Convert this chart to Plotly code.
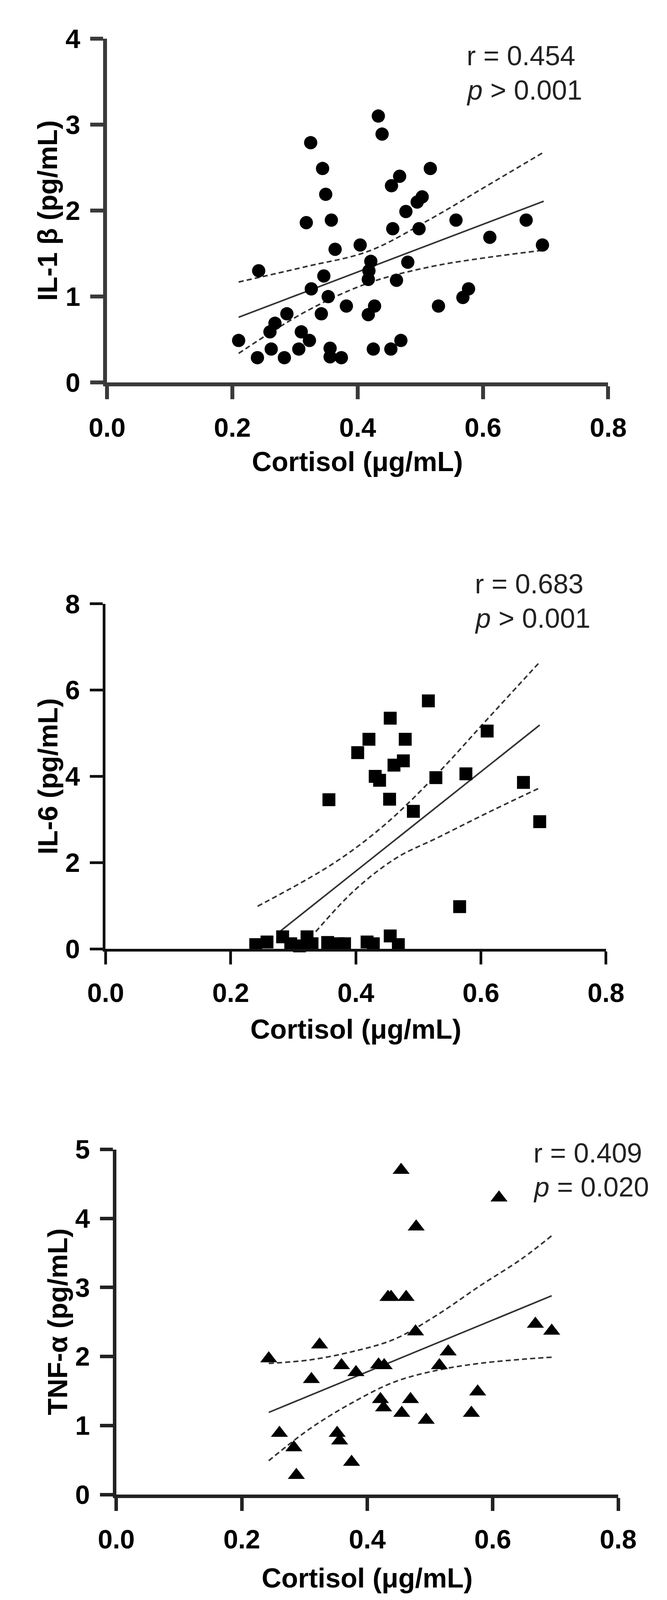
import plotly.graph_objects as go

# Cortisol vs cytokines, three stacked scatter panels with fit line + 95% CI bands

# IL-1 beta panel
il1b_x = [0.210, 0.240, 0.242, 0.262, 0.260, 0.268, 0.283, 0.287, 0.306, 0.310,
          0.323, 0.318, 0.325, 0.326, 0.342, 0.344, 0.346, 0.349, 0.353, 0.356,
          0.356, 0.358, 0.364, 0.374, 0.382, 0.404, 0.421, 0.418, 0.417, 0.417,
          0.427, 0.425, 0.433, 0.439, 0.456, 0.454, 0.467, 0.453, 0.469, 0.462,
          0.477, 0.498, 0.495, 0.503, 0.480, 0.516, 0.529, 0.557, 0.568, 0.577,
          0.611, 0.669, 0.695]
il1b_y = [0.49, 0.29, 1.30, 0.39, 0.59, 0.69, 0.29, 0.80, 0.39, 0.59,
          0.49, 1.86, 2.79, 1.09, 0.80, 2.49, 1.24, 2.19, 1.00, 0.40,
          0.30, 1.89, 1.55, 0.29, 0.89, 1.60, 1.41, 1.30, 1.20, 0.79,
          0.89, 0.39, 3.10, 2.89, 1.79, 2.29, 2.40, 0.39, 0.49, 1.19,
          1.99, 1.79, 2.10, 2.16, 1.40, 2.49, 0.89, 1.89, 0.99, 1.09,
          1.69, 1.89, 1.60]
il1b_fit_x = [0.210, 0.697]
il1b_fit_y = [0.76, 2.11]
il1b_ci_x = [0.210, 0.318, 0.418, 0.518, 0.602, 0.697]
il1b_ci_hi = [1.17, 1.35, 1.53, 1.91, 2.27, 2.68]
il1b_ci_lo = [0.34, 0.83, 1.16, 1.35, 1.45, 1.54]

# IL-6 panel
il6_x = [0.516, 0.455, 0.421, 0.403, 0.479, 0.476, 0.461, 0.431, 0.438, 0.528,
         0.576, 0.610, 0.668, 0.357, 0.454, 0.492, 0.694, 0.566,
         0.240, 0.258, 0.283, 0.296, 0.310, 0.322, 0.330, 0.355, 0.372, 0.382,
         0.418, 0.428, 0.455, 0.468]
il6_y = [5.75, 5.35, 4.86, 4.55, 4.86, 4.36, 4.26, 4.00, 3.91, 3.97,
         4.06, 5.05, 3.86, 3.46, 3.47, 3.19, 2.95, 0.98,
         0.10, 0.16, 0.28, 0.12, 0.07, 0.28, 0.12, 0.15, 0.12, 0.12,
         0.16, 0.12, 0.30, 0.10]
il6_fit_x = [0.280, 0.694]
il6_fit_y = [0.42, 5.19]
il6_hi_x = [0.243, 0.365, 0.448, 0.531, 0.608, 0.694]
il6_hi_y = [0.99, 1.99, 2.90, 4.07, 5.29, 6.65]
il6_lo_x = [0.336, 0.398, 0.465, 0.531, 0.614, 0.692]
il6_lo_y = [0.40, 1.36, 2.11, 2.58, 3.18, 3.72]

# TNF-alpha panel
tnf_x = [0.243, 0.324, 0.359, 0.311, 0.382, 0.418, 0.427, 0.477, 0.529, 0.515,
         0.433, 0.438, 0.462, 0.454, 0.610, 0.478, 0.668, 0.694, 0.576, 0.566,
         0.469, 0.455, 0.494, 0.421, 0.426, 0.260, 0.352, 0.356, 0.283, 0.375,
         0.287]
tnf_y = [1.97, 2.17, 1.87, 1.67, 1.77, 1.88, 1.87, 2.36, 2.07, 1.87,
         2.86, 2.86, 2.86, 4.70, 4.30, 3.88, 2.47, 2.37, 1.49, 1.18,
         1.38, 1.18, 1.08, 1.38, 1.26, 0.89, 0.89, 0.78, 0.68, 0.47,
         0.28]
tnf_fit_x = [0.243, 0.694]
tnf_fit_y = [1.19, 2.88]
tnf_ci_x = [0.243, 0.308, 0.376, 0.443, 0.511, 0.579, 0.647, 0.694]
tnf_ci_hi = [1.90, 1.95, 2.07, 2.25, 2.60, 3.02, 3.42, 3.75]
tnf_ci_lo = [0.49, 0.95, 1.33, 1.63, 1.80, 1.90, 1.96, 1.99]

x_ticks = [0.0, 0.2, 0.4, 0.6, 0.8]
stats = [("r = 0.454", "<i>p</i> > 0.001"),
         ("r = 0.683", "<i>p</i> > 0.001"),
         ("r = 0.409", "<i>p</i> = 0.020")]
y_titles = ["IL-1 β (pg/mL)", "IL-6 (pg/mL)", "TNF-α (pg/mL)"]
x_title = "Cortisol (μg/mL)"

W, H = 1708, 4122
FONT = "Liberation Sans, Arial, sans-serif"

# plot boxes in pixels: left, right, top, bottom
boxes = [(232, 1590, 54, 951), (228, 1584, 1528, 2428), (257, 1617, 2951, 3851)]
y_ranges = [(4, 1), (8, 2), (5, 1)]
stat_pos = [(1204, 99, 188), (1226, 1476, 1566), (1385, 2961, 3049)]
xtitle_y = [1157, 2638, 4069]
ytitle_x = [71, 71, 99]
axis_col = ["#3a3a3a", "#111111", "#222222"]
axis_w = [10, 7, 9]

fig = go.Figure()

dash_line = dict(color="#333333", width=4, dash="13px,8px")
solid_line = dict(color="#333333", width=4)

panels = [
    (il1b_x, il1b_y, "circle", 34, il1b_fit_x, il1b_fit_y, il1b_ci_x, il1b_ci_hi, il1b_ci_x, il1b_ci_lo),
    (il6_x, il6_y, "square", 33, il6_fit_x, il6_fit_y, il6_hi_x, il6_hi_y, il6_lo_x, il6_lo_y),
    (tnf_x, tnf_y, "triangle-up", 38, tnf_fit_x, tnf_fit_y, tnf_ci_x, tnf_ci_hi, tnf_ci_x, tnf_ci_lo),
]

for i, (px, py, sym, msz, fx, fy, hx, hy, lx, ly) in enumerate(panels):
    xa = "x" if i == 0 else f"x{i+1}"
    ya = "y" if i == 0 else f"y{i+1}"
    fig.add_trace(go.Scatter(x=hx, y=hy, mode="lines", line=dict(dash_line, shape="spline"),
                             xaxis=xa, yaxis=ya, showlegend=False, hoverinfo="skip"))
    fig.add_trace(go.Scatter(x=lx, y=ly, mode="lines", line=dict(dash_line, shape="spline"),
                             xaxis=xa, yaxis=ya, showlegend=False, hoverinfo="skip"))
    fig.add_trace(go.Scatter(x=fx, y=fy, mode="lines", line=solid_line,
                             xaxis=xa, yaxis=ya, showlegend=False, hoverinfo="skip"))
    fig.add_trace(go.Scatter(x=px, y=py, mode="markers", cliponaxis=False,
                             marker=dict(symbol=sym, size=msz, color="black", line=dict(width=0)),
                             xaxis=xa, yaxis=ya, showlegend=False))

annotations = []
for i, (l, r, t, b) in enumerate(boxes):
    sfx = "" if i == 0 else str(i + 1)
    ymax, dt = y_ranges[i]
    common = dict(showline=True, linecolor=axis_col[i], linewidth=axis_w[i],
                  ticks="outside", ticklen=33, tickwidth=axis_w[i], tickcolor=axis_col[i],
                  showgrid=False, zeroline=False,
                  tickfont=dict(family=FONT, size=68, color="black", weight="bold"))
    fig.update_layout(**{
        f"xaxis{sfx}": dict(common, domain=[l / W, r / W], range=[0, 0.8],
                            tickvals=x_ticks, tickformat=".1f", ticklabelstandoff=14,
                            anchor=f"y{sfx}"),
        f"yaxis{sfx}": dict(common, domain=[1 - b / H, 1 - t / H], range=[0, ymax],
                            dtick=dt, tick0=0, ticklabelstandoff=12, anchor=f"x{sfx}"),
    })
    sx, sy1, sy2 = stat_pos[i]
    for txt, yy in zip(stats[i], (sy1, sy2)):
        annotations.append(dict(text=txt, x=sx / W, y=1 - yy / H, xref="paper", yref="paper",
                                xanchor="left", yanchor="middle", showarrow=False,
                                font=dict(family=FONT, size=70, color="#222222")))
    annotations.append(dict(text=x_title, x=(l + r) / 2 / W, y=1 - xtitle_y[i] / H,
                            xref="paper", yref="paper", xanchor="center", yanchor="middle",
                            showarrow=False,
                            font=dict(family=FONT, size=70, color="black", weight="bold")))
    annotations.append(dict(text=y_titles[i], x=ytitle_x[i] / W, y=1 - (t + b) / 2 / H,
                            xref="paper", yref="paper", xanchor="center", yanchor="middle",
                            textangle=-90, showarrow=False,
                            font=dict(family=FONT, size=70, color="black", weight="bold")))

fig.update_layout(width=W, height=H, autosize=False,
                  margin=dict(l=0, r=0, t=0, b=0),
                  paper_bgcolor="white", plot_bgcolor="white",
                  annotations=annotations)

fig.write_html("out.html")
